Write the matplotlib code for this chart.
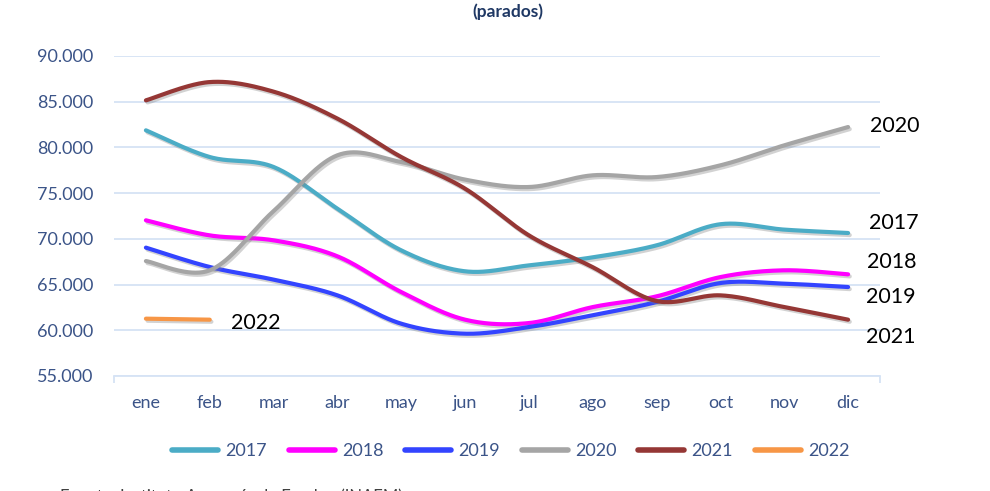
import numpy as np
import matplotlib
matplotlib.use('Agg')
import matplotlib.pyplot as plt
from matplotlib import patheffects as pe
from matplotlib.ticker import FuncFormatter, FixedLocator

plt.rcParams['font.family'] = ['Lato', 'DejaVu Sans']

months = ['ene', 'feb', 'mar', 'abr', 'may', 'jun', 'jul', 'ago', 'sep', 'oct', 'nov', 'dic']
years = ['2017', '2018', '2019', '2020', '2021', '2022']

s2017 = [81870, 78950, 77860, 73300, 68740, 66450, 67100, 67980, 69290, 71600, 71010, 70640]
s2018 = [72030, 70380, 69840, 68090, 64180, 61160, 60790, 62540, 63710, 65820, 66560, 66120]
s2019 = [69040, 66920, 65540, 63820, 60720, 59630, 60350, 61650, 63090, 65170, 65100, 64730]
s2020 = [67570, 66560, 73040, 79140, 78400, 76480, 75670, 76950, 76760, 78040, 80230, 82230]
s2021 = [85150, 87150, 86100, 83150, 78950, 75490, 70380, 66900, 63200, 63820, 62540, 61160]
s2022 = [61270, 61160]

series = [s2017, s2018, s2019, s2020, s2021, s2022]
colors = ['#4BACC6', '#FF00FF', '#3344FF', '#A5A5A5', '#953735', '#F79646']
# label offsets (pixels) relative to last point of each series
label_offsets = {'2017': (21, 10), '2018': (19, 12), '2019': (18, -10),
                 '2020': (22, 1), '2021': (18, -17), '2022': (21, -3)}

tick_color = '#3B5488'
grid_color = '#D6E3F5'


def smooth(y, n=40):
    y = np.asarray(y, float)
    x = np.arange(len(y), dtype=float)
    pts = np.column_stack([x, y])
    if len(pts) < 3:
        return pts[:, 0], pts[:, 1]
    P = np.vstack([pts[0], pts, pts[-1]])
    out = []
    t = np.linspace(0, 1, n)[:, None]
    for i in range(len(pts) - 1):
        p0, p1, p2, p3 = P[i], P[i + 1], P[i + 2], P[i + 3]
        c1 = p1 + (p2 - p0) / 6.0
        c2 = p2 - (p3 - p1) / 6.0
        b = (1 - t) ** 3 * p1 + 3 * (1 - t) ** 2 * t * c1 + 3 * (1 - t) * t ** 2 * c2 + t ** 3 * p2
        out.append(b if i == 0 else b[1:])
    out = np.vstack(out)
    return out[:, 0], out[:, 1]


fig = plt.figure(figsize=(9.9, 4.91), dpi=100)
ax = fig.add_axes([114 / 990, 1 - 376 / 491, (880 - 114) / 990, (376 - 56) / 491])

shadow = [pe.SimpleLineShadow(offset=(1.2, -1.5), shadow_color='#808080', alpha=0.35),
          pe.Normal()]

handles = []
for yr, s, c in zip(years, series, colors):
    xs, ys = smooth(s)
    ln, = ax.plot(xs, ys, color=c, lw=3.0, solid_capstyle='round',
                  solid_joinstyle='round', path_effects=shadow, zorder=3, label=yr)
    handles.append(ln)
    dx, dy = label_offsets[yr]
    ax.annotate(yr, xy=(len(s) - 1, s[-1]), xytext=(dx, dy), textcoords='offset pixels',
                ha='left', va='center', fontsize=15.5, color='black', annotation_clip=False)

ax.set_xlim(-0.5, len(months) - 0.5)
ax.set_ylim(55000, 90000)
ax.set_yticks(np.arange(55000, 90001, 5000))
ax.yaxis.set_major_formatter(FuncFormatter(lambda v, p: f'{int(v):,}'.replace(',', '.')))
ax.set_xticks(range(len(months)))
ax.set_xticklabels(months)
ax.xaxis.set_minor_locator(FixedLocator([-0.5, len(months) - 0.5]))

ax.grid(axis='y', color=grid_color, lw=1.3, zorder=0)
ax.set_axisbelow(True)
for side in ['left', 'right', 'top']:
    ax.spines[side].set_visible(False)
ax.spines['bottom'].set_color(grid_color)
ax.spines['bottom'].set_linewidth(1.3)
ax.tick_params(axis='y', length=0, pad=15, labelsize=13, labelcolor=tick_color)
ax.tick_params(axis='x', which='major', length=0, pad=14, labelsize=13, labelcolor=tick_color)
ax.tick_params(axis='x', which='minor', length=5, width=1.3, color=grid_color, direction='out')

fig.text(508 / 990, 1 - 12 / 491, '(parados)', ha='center', va='center',
         fontsize=12.5, fontweight='bold', color='#1F3864')

leg = fig.legend(handles=handles, labels=years, loc='center', ncol=6,
                 bbox_to_anchor=(511 / 990, 1 - 451 / 491), frameon=False,
                 fontsize=13, handlelength=2.55, handletextpad=0.4, columnspacing=1.2)
for txt in leg.get_texts():
    txt.set_color(tick_color)
for lh in leg.get_lines():
    lh.set_linewidth(4)
    lh.set_solid_capstyle('round')
    lh.set_path_effects([])

fig.text(60 / 990, 3 / 491, 'Fuente: Instituto Aragonés de Empleo (INAEM)', ha='left', va='top',
         fontsize=12, color='#404040')

fig.savefig('out.png', dpi=100)
